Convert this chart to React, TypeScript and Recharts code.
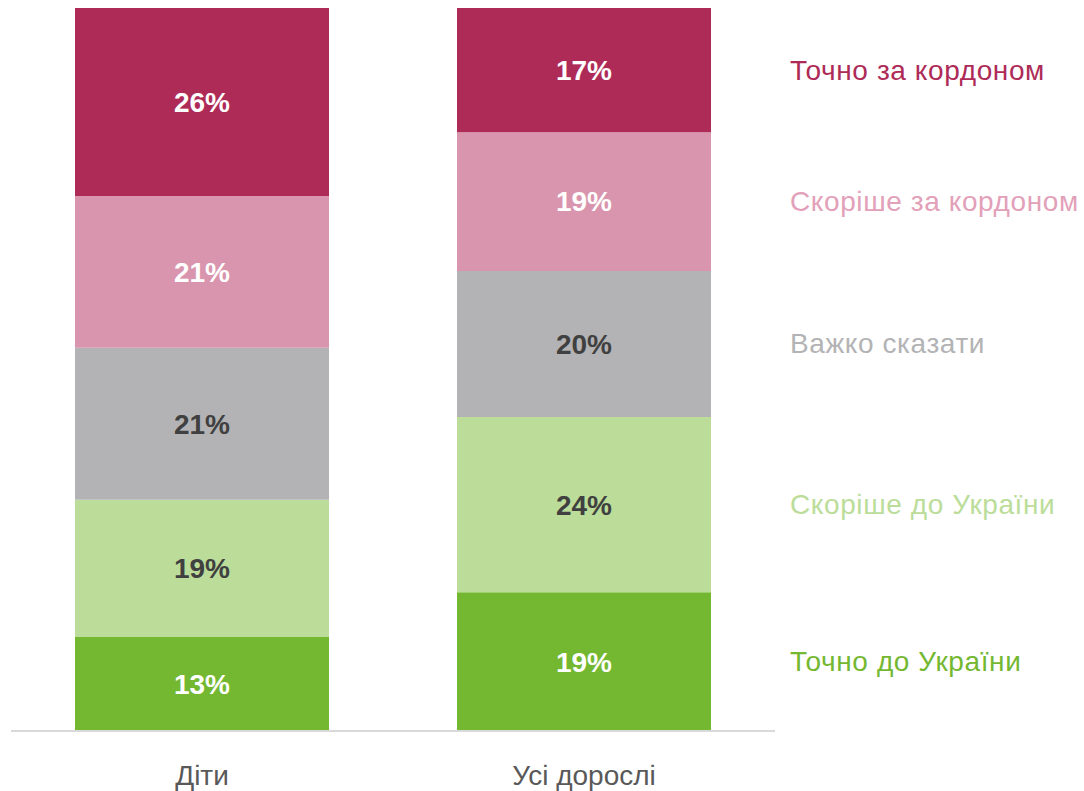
import { BarChart, Bar, XAxis, YAxis, LabelList } from "recharts";

const categories = ["Діти", "Усі дорослі"];
const seriesNames = [
  "Точно до України",
  "Скоріше до України",
  "Важко сказати",
  "Скоріше за кордоном",
  "Точно за кордоном",
];
const definitelyUkraine = [13, 19];
const ratherUkraine = [19, 24];
const hardToSay = [21, 20];
const ratherAbroad = [21, 19];
const definitelyAbroad = [26, 17];

const fills = ["#74b832", "#bbdd99", "#b3b3b5", "#d995ad", "#ae2b57"];
const legendColors = ["#74b832", "#bbdd99", "#b3b3b5", "#e3a0b9", "#ae2b57"];
const valueColors = ["#ffffff", "#404040", "#404040", "#ffffff", "#ffffff"];

const seriesValues = [definitelyUkraine, ratherUkraine, hardToSay, ratherAbroad, definitelyAbroad];
const keys = ["s0", "s1", "s2", "s3", "s4"];

const data = categories.map((name, i) => {
  const row: Record<string, string | number> = { name };
  keys.forEach((k, s) => {
    row[k] = seriesValues[s][i];
  });
  return row;
});

const FONT = "'Liberation Sans', Arial, sans-serif";

// legend text sits to the right of the last bar, one line per segment
function legendLabel(s: number) {
  return (props: any) => {
    const { x, y, width, height, index } = props;
    if (index !== categories.length - 1) return null;
    return (
      <text
        x={x + width + 79}
        y={y + height / 2}
        dominantBaseline="central"
        fill={legendColors[s]}
        fontSize={28}
        letterSpacing={0.6}
        fontFamily={FONT}
      >
        {seriesNames[s]}
      </text>
    );
  };
}

export default function App() {
  return (
    <div style={{ position: "absolute", left: 0, top: 0, width: 1084, height: 791, background: "#fff" }}>
      <BarChart
        width={1084}
        height={791}
        data={data}
        stackOffset="expand"
        margin={{ top: 8, right: 309, left: 11, bottom: 0 }}
        barSize={254}
      >
        <XAxis
          dataKey="name"
          axisLine={{ stroke: "#d9d9d9", strokeWidth: 2 }}
          tickLine={false}
          height={60}
          tickMargin={28}
          tick={{ fill: "#595959", fontSize: 28, fontFamily: FONT }}
        />
        <YAxis hide domain={[0, 1]} />
        {keys.map((k, s) => (
          <Bar key={k} dataKey={k} stackId="a" fill={fills[s]} isAnimationActive={false}>
            <LabelList
              dataKey={k}
              position="center"
              formatter={(v: any) => `${v}%`}
              fill={valueColors[s]}
              fontSize={28}
              fontWeight="bold"
              fontFamily={FONT}
            />
            <LabelList dataKey={k} content={legendLabel(s)} />
          </Bar>
        ))}
      </BarChart>
    </div>
  );
}
